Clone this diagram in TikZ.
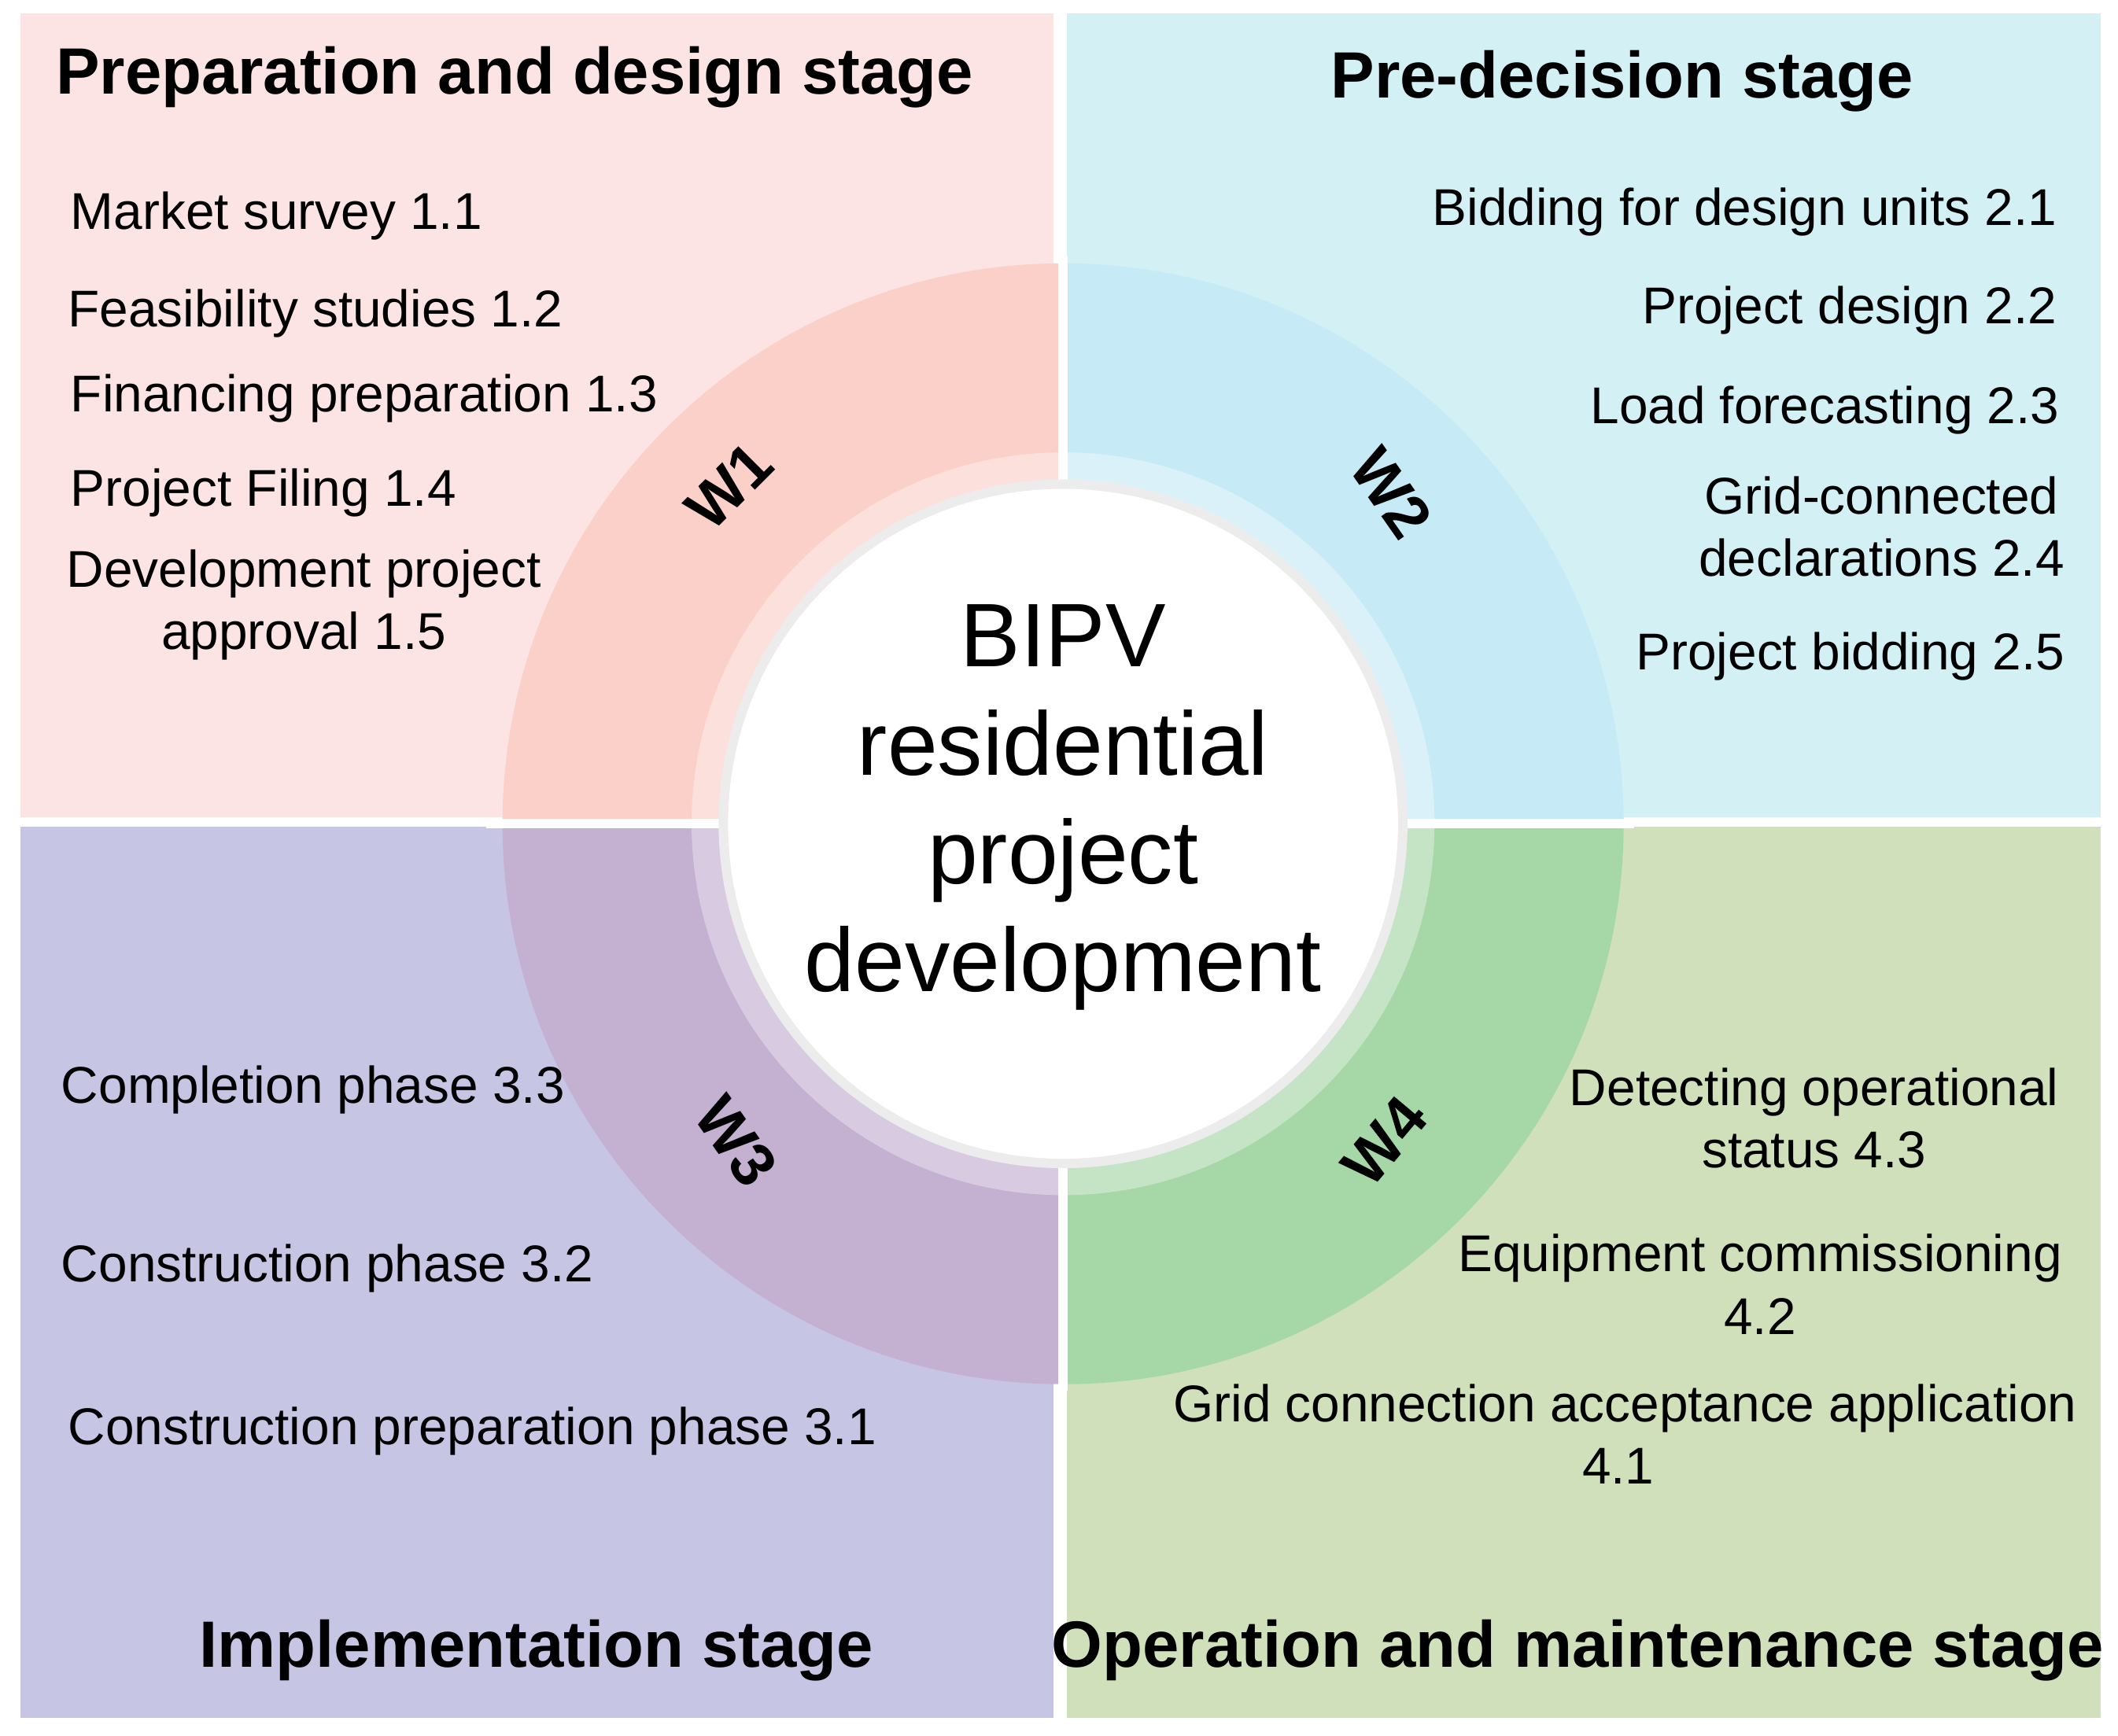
\documentclass[tikz,border=0pt]{standalone}
\usepackage{fontspec}
\setmainfont{Liberation Sans}
\definecolor{bgone}{HTML}{FDE4E4}
\definecolor{bgtwo}{HTML}{D3F0F5}
\definecolor{bgthree}{HTML}{C6C5E3}
\definecolor{bgfour}{HTML}{CFE0BB}
\definecolor{ringone}{HTML}{FBD0C9}
\definecolor{ringtwo}{HTML}{C7EBF6}
\definecolor{ringthree}{HTML}{C4B0D1}
\definecolor{ringfour}{HTML}{A6D7A7}
\begin{document}
\begin{tikzpicture}[x=1cm,y=-1cm,
    stage/.style={font=\bfseries\fontsize{13.8}{16}\selectfont},
    item/.style={font=\fontsize{10.9}{13.2}\selectfont, align=center},
    wlabel/.style={font=\bfseries\fontsize{13}{15}\selectfont}]

    \useasboundingbox (0,0) rectangle (15.68,12.85);
    \fill[white] (0,0) rectangle (15.68,12.85);

    % quadrants
    \fill[bgone] (0.15,0.10) rectangle (7.80,6.05);
    \fill[bgtwo] (7.90,0.10) rectangle (15.55,6.05);
    \fill[bgthree] (0.15,6.12) rectangle (7.80,12.72);
    \fill[bgfour] (7.90,6.12) rectangle (15.55,12.72);

    % ring (y axis points down, so angles run clockwise)
    \coordinate (c) at (7.87,6.10);
    \fill[ringone] (c) -- ++(180:4.15) arc (180:270:4.15) -- cycle;
    \fill[ringtwo] (c) -- ++(270:4.15) arc (270:360:4.15) -- cycle;
    \fill[ringthree] (c) -- ++(180:4.15) arc (180:90:4.15) -- cycle;
    \fill[ringfour] (c) -- ++(90:4.15) arc (90:0:4.15) -- cycle;
    \fill[white, opacity=.35] (c) circle (2.75);
    \draw[white, line width=2pt] (3.6,6.10) -- (12.1,6.10);
    \draw[white, line width=2pt] (7.87,1.9) -- (7.87,10.3);
    \fill[gray!15] (c) circle (2.55);
    \fill[white] (c) circle (2.48);
    \node[align=center, font=\fontsize{19}{22.8}\selectfont] (hub) at (7.87,5.98)
        {BIPV\\residential\\project\\development};

    \node[wlabel, rotate=45] (w1) at (5.40,3.60) {W1};
    \node[wlabel, rotate=-55] (w2) at (10.30,3.65) {W2};
    \node[wlabel, rotate=-55] (w3) at (5.45,8.45) {W3};
    \node[wlabel, rotate=50] (w4) at (10.25,8.45) {W4};

    % stage titles
    \node[stage] (s1) at (3.81,0.57) {Preparation and design stage};
    \node[stage] (s2) at (12.01,0.60) {Pre-decision stage};
    \node[stage] (s3) at (3.97,12.22) {Implementation stage};
    \node[stage] (s4) at (11.68,12.22) {Operation and maintenance stage};

    % stage 1
    \node[item, anchor=west] (i11) at (0.40,1.60) {Market survey 1.1};
    \node[item, anchor=west] (i12) at (0.38,2.32) {Feasibility studies 1.2};
    \node[item, anchor=west] (i13) at (0.40,2.95) {Financing preparation 1.3};
    \node[item, anchor=west] (i14) at (0.40,3.65) {Project Filing 1.4};
    \node[item] (i15) at (2.25,4.48) {Development project\\approval 1.5};

    % stage 2
    \node[item, anchor=east] (i21) at (15.35,1.57) {Bidding for design units 2.1};
    \node[item, anchor=east] (i22) at (15.35,2.30) {Project design 2.2};
    \node[item, anchor=east] (i23) at (15.37,3.04) {Load forecasting 2.3};
    \node[item] (i24) at (13.93,3.90) {Grid-connected\\declarations 2.4};
    \node[item, anchor=east] (i25) at (15.41,4.86) {Project bidding 2.5};

    % stage 3
    \node[item, anchor=west] (i33) at (0.33,8.07) {Completion phase 3.3};
    \node[item, anchor=west] (i32) at (0.33,9.39) {Construction phase 3.2};
    \node[item, anchor=west] (i31) at (0.38,10.60) {Construction preparation phase 3.1};

    % stage 4
    \node[item] (i43) at (13.43,8.28) {Detecting operational\\status 4.3};
    \node[item] (i42) at (13.03,9.51) {Equipment commissioning\\4.2};
    \node[item] (i41) at (12.03,10.62) {Grid connection acceptance application\\4.1\hspace*{0.1cm}};

\end{tikzpicture}
\end{document}
